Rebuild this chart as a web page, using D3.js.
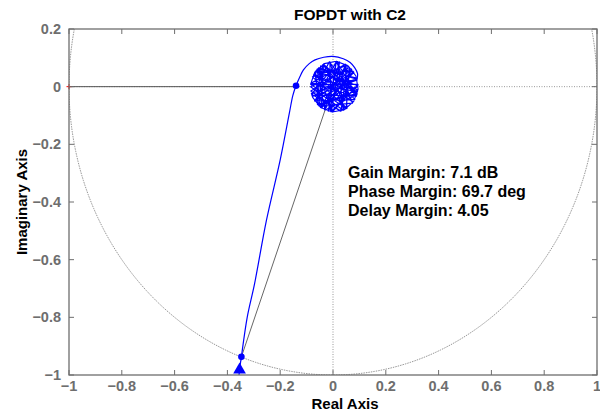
<!DOCTYPE html>
<html><head><meta charset="utf-8">
<script src="https://cdn.jsdelivr.net/npm/d3@7"></script>
<style>
html,body{margin:0;padding:0;background:#fff;}
svg{display:block;font-family:"Liberation Sans",Arial,Helvetica,sans-serif;}
</style></head>
<body>
<svg id="chart" width="600" height="415"></svg>
<script>
// ---- data ----
const title = "FOPDT with C2";
const xLabel = "Real Axis";
const yLabel = "Imaginary Axis";
const xTicks = [-1, -0.8, -0.6, -0.4, -0.2, 0, 0.2, 0.4, 0.6, 0.8, 1];
const yTicks = [0.2, 0, -0.2, -0.4, -0.6, -0.8, -1];
const xDomain = [-1, 1];
const yDomain = [-1, 0.2];
// Nyquist curve: low frequency (bottom) to the entry of the delay spiral
const nyqRe = [-0.362, -0.356, -0.347, -0.325, -0.297, -0.252, -0.200, -0.165, -0.152, -0.140, -0.125, -0.112, -0.090, -0.068, -0.035, 0.000, 0.039, 0.065, 0.082, 0.093, 0.091];
const nyqIm = [-1.25, -1.00, -0.937, -0.80, -0.683, -0.463, -0.254, -0.090, -0.030, 0.003, 0.035, 0.058, 0.080, 0.093, 0.102, 0.105, 0.097, 0.084, 0.066, 0.045, 0.026];
// high-frequency part: the delay makes the curve wind round the origin (sparse samples -> chords)
const spiralRe = [0.091,-0.055,-0.008,0.095,-0.066,-0.056,0.094,-0.061,-0.030,0.091,-0.036,-0.044,0.077,-0.069,-0.047,0.090,-0.059,-0.003,0.095,-0.085,0.050,0.063,-0.084,0.028,0.069,-0.085,0.039,0.018,-0.081,0.031,0.054,-0.078,0.053,0.047,-0.084,0.088,-0.014,-0.080,0.090,0.013,-0.069,0.083,-0.047,-0.059,0.092,-0.040,-0.053,0.074,0.013,
  -0.018,0.050,-0.047,0.079,-0.078,0.092,-0.084,0.093,-0.074,0.076,-0.036,0.043,-0.012,-0.006,0.025,-0.032,0.071,-0.070,0.091,-0.082,
  -0.077,-0.047,-0.003,0.043,0.079,0.095,0.087,0.057,0.013,-0.033,-0.069,-0.085];
const spiralIm = [0.026,0.065,-0.087,0.003,0.054,-0.064,-0.012,0.060,-0.081,-0.027,0.078,-0.074,0.053,0.050,-0.072,0.030,0.062,-0.088,0.008,0.008,-0.076,0.067,-0.015,-0.085,0.062,0.000,-0.082,0.087,-0.026,-0.084,0.074,0.034,-0.075,0.078,0.012,-0.034,0.086,-0.030,-0.030,0.088,-0.050,-0.044,0.072,-0.062,-0.023,0.076,-0.067,-0.057,0.088,
  -0.085,0.076,-0.072,0.050,-0.034,0.023,0.011,-0.017,0.041,-0.054,0.078,-0.080,0.086,-0.087,0.086,-0.080,0.060,-0.049,0.027,-0.023,
  -0.037,-0.072,-0.088,-0.080,-0.050,-0.008,0.037,0.072,0.088,0.080,0.050,0.008];
const gmPoint = [-0.140, 0.003];
const pmPoint = [-0.347, -0.937];
const arrowPoint = [-0.354, -0.98];
const criticalPoint = [-1, 0];
const marginText = ["Gain Margin: 7.1 dB", "Phase Margin: 69.7 deg", "Delay Margin: 4.05"];
const marginTextPos = [0.057, -0.29];

// ---- layout ----
const svg = d3.select("#chart");
const L = 69, R = 597, T = 29, B = 375;
const x = d3.scaleLinear().domain(xDomain).range([L, R]);
const y = d3.scaleLinear().domain(yDomain).range([B, T]);
const axisCol = "#6e6e6e";

svg.append("defs").append("clipPath").attr("id","clip")
  .append("rect").attr("x",L).attr("y",T).attr("width",R-L).attr("height",B-T);
const plot = svg.append("g").attr("clip-path","url(#clip)");

// grid lines through origin (dotted)
plot.append("line").attr("x1",x(0)).attr("x2",x(0)).attr("y1",T).attr("y2",B)
  .attr("stroke","#999").attr("stroke-width",1).attr("stroke-dasharray","1,1.5");
plot.append("line").attr("x1",L).attr("x2",R).attr("y1",y(0)).attr("y2",y(0))
  .attr("stroke","#999").attr("stroke-width",1).attr("stroke-dasharray","1,1.5");

// unit circle
const circAngles = d3.range(0, 361, 1);
plot.append("path")
  .datum(circAngles)
  .attr("d", d3.line().x(a => x(Math.cos(a*Math.PI/180))).y(a => y(Math.sin(a*Math.PI/180))))
  .attr("fill","none").attr("stroke","#8a8a8a").attr("stroke-width",0.9).attr("stroke-dasharray","1.5,1");

// margin lines
plot.append("line").attr("x1",x(criticalPoint[0])).attr("y1",y(0)).attr("x2",x(gmPoint[0])).attr("y2",y(0))
  .attr("stroke","#555").attr("stroke-width",1);
plot.append("line").attr("x1",x(0)).attr("y1",y(0)).attr("x2",x(pmPoint[0])).attr("y2",y(pmPoint[1]))
  .attr("stroke","#666").attr("stroke-width",1);

// Nyquist curve
plot.append("path").datum(nyqRe.map((v,i)=>[v,nyqIm[i]]))
  .attr("d", d3.line().curve(d3.curveCatmullRom).x(d=>x(d[0])).y(d=>y(d[1])))
  .attr("fill","none").attr("stroke","#0000ff").attr("stroke-width",1.2);
plot.append("path").datum(spiralRe.map((v,i)=>[v,spiralIm[i]]))
  .attr("d", d3.line().x(d=>x(d[0])).y(d=>y(d[1])))
  .attr("fill","none").attr("stroke","#0000ff").attr("stroke-width",1.15).attr("stroke-linejoin","round");

// markers
svg.selectAll("circle.m").data([gmPoint, pmPoint]).enter().append("circle")
  .attr("cx",d=>x(d[0])).attr("cy",d=>y(d[1])).attr("r",3.3).attr("fill","#0000ff");
svg.append("path").attr("d", d3.symbol().type(d3.symbolTriangle).size(70)())
  .attr("transform",`translate(${x(arrowPoint[0])},${y(arrowPoint[1])+0.5})`).attr("fill","#0000ff");
// critical point
svg.append("path").attr("d","M-2.5,0H2.5M0,-2.5V2.5")
  .attr("transform",`translate(${x(criticalPoint[0])},${y(criticalPoint[1])})`)
  .attr("stroke","#ff0000").attr("stroke-width",1);

// axes box
const box = svg.append("g").attr("stroke",axisCol).attr("stroke-width",1.3).attr("fill","none");
box.append("rect").attr("x",L).attr("y",T).attr("width",R-L).attr("height",B-T);
xTicks.forEach(t=>{
  box.append("line").attr("x1",x(t)).attr("x2",x(t)).attr("y1",B).attr("y2",B-5).attr("stroke-width",1);
  box.append("line").attr("x1",x(t)).attr("x2",x(t)).attr("y1",T).attr("y2",T+5).attr("stroke-width",1);
});
yTicks.forEach(t=>{
  box.append("line").attr("x1",L).attr("x2",L+5).attr("y1",y(t)).attr("y2",y(t)).attr("stroke-width",1);
  box.append("line").attr("x1",R).attr("x2",R-5).attr("y1",y(t)).attr("y2",y(t)).attr("stroke-width",1);
});

const fmt = d => d===0 ? "0" : d3.format("")(d);
svg.selectAll("text.xt").data(xTicks).enter().append("text")
  .attr("x",d=>x(d)).attr("y",B+16).attr("text-anchor","middle")
  .attr("font-size",14.5).attr("font-weight","bold").attr("fill",axisCol).text(fmt);
svg.selectAll("text.yt").data(yTicks).enter().append("text")
  .attr("x",L-8).attr("y",d=>y(d)+5).attr("text-anchor","end")
  .attr("font-size",14.5).attr("font-weight","bold").attr("fill",axisCol).text(fmt);

svg.append("text").attr("x",350).attr("y",20).attr("text-anchor","middle")
  .attr("font-size",15.5).attr("font-weight","bold").attr("fill","#000").text(title);
svg.append("text").attr("x",345).attr("y",409).attr("text-anchor","middle")
  .attr("font-size",15).attr("font-weight","bold").attr("fill","#000").text(xLabel);
svg.append("text").attr("transform",`translate(27,${(T+B)/2}) rotate(-90)`).attr("text-anchor","middle")
  .attr("font-size",15).attr("font-weight","bold").attr("fill","#000").text(yLabel);

svg.append("g").selectAll("text").data(marginText).enter().append("text")
  .attr("x",x(marginTextPos[0])).attr("y",(d,i)=>178+i*19)
  .attr("font-size",16).attr("font-weight","bold").attr("fill","#000").text(d=>d);
</script>
</body></html>
